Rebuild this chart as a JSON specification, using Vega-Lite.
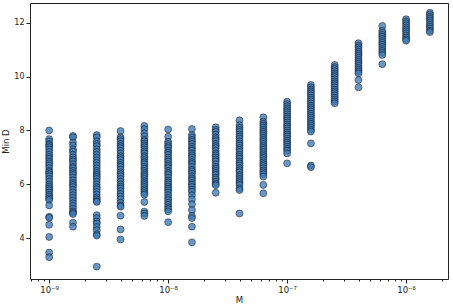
{
  "$schema": "https://vega.github.io/schema/vega-lite/v6.json",
  "width": 418,
  "height": 276,
  "autosize": {"type": "none"},
  "padding": {"left": 30, "top": 3, "right": 5, "bottom": 27},
  "background": "white",
  "config": {
    "view": {"stroke": "#222222", "strokeWidth": 1},
    "font": "DejaVu Sans",
    "axis": {"domain": false, "grid": false, "tickColor": "#222222", "labelColor": "#222222", "titleColor": "#222222", "labelFont": "DejaVu Sans", "titleFont": "DejaVu Sans", "labelFontSize": 8, "titleFontSize": 8.5, "titleFontWeight": "normal"}
  },
  "data": {"values": [
    {"M":1e-9,"D":8.0},{"M":1e-9,"D":7.68},{"M":1e-9,"D":7.6},{"M":1e-9,"D":7.5},{"M":1e-9,"D":7.45},{"M":1e-9,"D":7.38},{"M":1e-9,"D":7.3},{"M":1e-9,"D":7.2},{"M":1e-9,"D":7.1},{"M":1e-9,"D":7.02},{"M":1e-9,"D":6.95},{"M":1e-9,"D":6.85},{"M":1e-9,"D":6.78},{"M":1e-9,"D":6.7},{"M":1e-9,"D":6.6},{"M":1e-9,"D":6.5},{"M":1e-9,"D":6.45},{"M":1e-9,"D":6.38},{"M":1e-9,"D":6.3},{"M":1e-9,"D":6.2},{"M":1e-9,"D":6.1},{"M":1e-9,"D":6.0},{"M":1e-9,"D":5.92},{"M":1e-9,"D":5.85},{"M":1e-9,"D":5.78},{"M":1e-9,"D":5.7},{"M":1e-9,"D":5.62},{"M":1e-9,"D":5.55},{"M":1e-9,"D":5.48},{"M":1e-9,"D":5.42},{"M":1e-9,"D":5.22},{"M":1e-9,"D":4.8},{"M":1e-9,"D":4.76},{"M":1e-9,"D":4.5},{"M":1e-9,"D":4.05},{"M":1e-9,"D":3.47},{"M":1e-9,"D":3.3},
    {"M":1.585e-9,"D":7.8},{"M":1.585e-9,"D":7.75},{"M":1.585e-9,"D":7.55},{"M":1.585e-9,"D":7.45},{"M":1.585e-9,"D":7.3},{"M":1.585e-9,"D":7.22},{"M":1.585e-9,"D":7.1},{"M":1.585e-9,"D":7.0},{"M":1.585e-9,"D":6.92},{"M":1.585e-9,"D":6.85},{"M":1.585e-9,"D":6.75},{"M":1.585e-9,"D":6.65},{"M":1.585e-9,"D":6.6},{"M":1.585e-9,"D":6.5},{"M":1.585e-9,"D":6.42},{"M":1.585e-9,"D":6.35},{"M":1.585e-9,"D":6.25},{"M":1.585e-9,"D":6.15},{"M":1.585e-9,"D":6.05},{"M":1.585e-9,"D":5.98},{"M":1.585e-9,"D":5.9},{"M":1.585e-9,"D":5.8},{"M":1.585e-9,"D":5.7},{"M":1.585e-9,"D":5.6},{"M":1.585e-9,"D":5.5},{"M":1.585e-9,"D":5.4},{"M":1.585e-9,"D":5.3},{"M":1.585e-9,"D":5.2},{"M":1.585e-9,"D":5.1},{"M":1.585e-9,"D":5.0},{"M":1.585e-9,"D":4.95},{"M":1.585e-9,"D":4.9},{"M":1.585e-9,"D":4.58},{"M":1.585e-9,"D":4.43},
    {"M":2.512e-9,"D":7.83},{"M":2.512e-9,"D":7.75},{"M":2.512e-9,"D":7.6},{"M":2.512e-9,"D":7.5},{"M":2.512e-9,"D":7.42},{"M":2.512e-9,"D":7.3},{"M":2.512e-9,"D":7.2},{"M":2.512e-9,"D":7.1},{"M":2.512e-9,"D":7.0},{"M":2.512e-9,"D":6.9},{"M":2.512e-9,"D":6.8},{"M":2.512e-9,"D":6.7},{"M":2.512e-9,"D":6.6},{"M":2.512e-9,"D":6.5},{"M":2.512e-9,"D":6.42},{"M":2.512e-9,"D":6.35},{"M":2.512e-9,"D":6.28},{"M":2.512e-9,"D":6.2},{"M":2.512e-9,"D":6.1},{"M":2.512e-9,"D":6.0},{"M":2.512e-9,"D":5.9},{"M":2.512e-9,"D":5.82},{"M":2.512e-9,"D":5.72},{"M":2.512e-9,"D":5.62},{"M":2.512e-9,"D":5.52},{"M":2.512e-9,"D":5.45},{"M":2.512e-9,"D":5.38},{"M":2.512e-9,"D":5.35},{"M":2.512e-9,"D":4.86},{"M":2.512e-9,"D":4.75},{"M":2.512e-9,"D":4.62},{"M":2.512e-9,"D":4.55},{"M":2.512e-9,"D":4.42},{"M":2.512e-9,"D":4.3},{"M":2.512e-9,"D":4.15},{"M":2.512e-9,"D":4.1},{"M":2.512e-9,"D":2.95},
    {"M":3.981e-9,"D":7.98},{"M":3.981e-9,"D":7.75},{"M":3.981e-9,"D":7.68},{"M":3.981e-9,"D":7.6},{"M":3.981e-9,"D":7.5},{"M":3.981e-9,"D":7.42},{"M":3.981e-9,"D":7.35},{"M":3.981e-9,"D":7.25},{"M":3.981e-9,"D":7.15},{"M":3.981e-9,"D":7.05},{"M":3.981e-9,"D":6.98},{"M":3.981e-9,"D":6.9},{"M":3.981e-9,"D":6.8},{"M":3.981e-9,"D":6.72},{"M":3.981e-9,"D":6.65},{"M":3.981e-9,"D":6.55},{"M":3.981e-9,"D":6.45},{"M":3.981e-9,"D":6.38},{"M":3.981e-9,"D":6.3},{"M":3.981e-9,"D":6.2},{"M":3.981e-9,"D":6.1},{"M":3.981e-9,"D":6.0},{"M":3.981e-9,"D":5.92},{"M":3.981e-9,"D":5.85},{"M":3.981e-9,"D":5.75},{"M":3.981e-9,"D":5.65},{"M":3.981e-9,"D":5.55},{"M":3.981e-9,"D":5.45},{"M":3.981e-9,"D":5.32},{"M":3.981e-9,"D":5.22},{"M":3.981e-9,"D":5.17},{"M":3.981e-9,"D":4.84},{"M":3.981e-9,"D":4.33},{"M":3.981e-9,"D":3.96},
    {"M":6.31e-9,"D":8.17},{"M":6.31e-9,"D":8.05},{"M":6.31e-9,"D":7.9},{"M":6.31e-9,"D":7.78},{"M":6.31e-9,"D":7.65},{"M":6.31e-9,"D":7.6},{"M":6.31e-9,"D":7.52},{"M":6.31e-9,"D":7.45},{"M":6.31e-9,"D":7.38},{"M":6.31e-9,"D":7.3},{"M":6.31e-9,"D":7.22},{"M":6.31e-9,"D":7.15},{"M":6.31e-9,"D":7.05},{"M":6.31e-9,"D":6.98},{"M":6.31e-9,"D":6.9},{"M":6.31e-9,"D":6.82},{"M":6.31e-9,"D":6.75},{"M":6.31e-9,"D":6.65},{"M":6.31e-9,"D":6.58},{"M":6.31e-9,"D":6.5},{"M":6.31e-9,"D":6.42},{"M":6.31e-9,"D":6.35},{"M":6.31e-9,"D":6.28},{"M":6.31e-9,"D":6.2},{"M":6.31e-9,"D":6.12},{"M":6.31e-9,"D":6.05},{"M":6.31e-9,"D":5.98},{"M":6.31e-9,"D":5.9},{"M":6.31e-9,"D":5.82},{"M":6.31e-9,"D":5.75},{"M":6.31e-9,"D":5.68},{"M":6.31e-9,"D":5.62},{"M":6.31e-9,"D":5.35},{"M":6.31e-9,"D":4.99},{"M":6.31e-9,"D":4.92},{"M":6.31e-9,"D":4.83},
    {"M":1e-8,"D":8.04},{"M":1e-8,"D":7.77},{"M":1e-8,"D":7.58},{"M":1e-8,"D":7.5},{"M":1e-8,"D":7.42},{"M":1e-8,"D":7.35},{"M":1e-8,"D":7.25},{"M":1e-8,"D":7.18},{"M":1e-8,"D":7.1},{"M":1e-8,"D":7.0},{"M":1e-8,"D":6.92},{"M":1e-8,"D":6.85},{"M":1e-8,"D":6.75},{"M":1e-8,"D":6.68},{"M":1e-8,"D":6.6},{"M":1e-8,"D":6.5},{"M":1e-8,"D":6.42},{"M":1e-8,"D":6.35},{"M":1e-8,"D":6.25},{"M":1e-8,"D":6.15},{"M":1e-8,"D":6.08},{"M":1e-8,"D":6.0},{"M":1e-8,"D":5.92},{"M":1e-8,"D":5.85},{"M":1e-8,"D":5.78},{"M":1e-8,"D":5.7},{"M":1e-8,"D":5.6},{"M":1e-8,"D":5.5},{"M":1e-8,"D":5.42},{"M":1e-8,"D":5.32},{"M":1e-8,"D":5.24},{"M":1e-8,"D":5.15},{"M":1e-8,"D":5.08},{"M":1e-8,"D":5.0},{"M":1e-8,"D":4.6},
    {"M":1.585e-8,"D":8.06},{"M":1.585e-8,"D":7.83},{"M":1.585e-8,"D":7.75},{"M":1.585e-8,"D":7.65},{"M":1.585e-8,"D":7.58},{"M":1.585e-8,"D":7.5},{"M":1.585e-8,"D":7.4},{"M":1.585e-8,"D":7.32},{"M":1.585e-8,"D":7.25},{"M":1.585e-8,"D":7.15},{"M":1.585e-8,"D":7.08},{"M":1.585e-8,"D":7.0},{"M":1.585e-8,"D":6.9},{"M":1.585e-8,"D":6.82},{"M":1.585e-8,"D":6.75},{"M":1.585e-8,"D":6.65},{"M":1.585e-8,"D":6.55},{"M":1.585e-8,"D":6.48},{"M":1.585e-8,"D":6.4},{"M":1.585e-8,"D":6.3},{"M":1.585e-8,"D":6.22},{"M":1.585e-8,"D":6.15},{"M":1.585e-8,"D":6.05},{"M":1.585e-8,"D":5.98},{"M":1.585e-8,"D":5.9},{"M":1.585e-8,"D":5.8},{"M":1.585e-8,"D":5.73},{"M":1.585e-8,"D":5.6},{"M":1.585e-8,"D":5.45},{"M":1.585e-8,"D":5.27},{"M":1.585e-8,"D":5.05},{"M":1.585e-8,"D":4.83},{"M":1.585e-8,"D":4.75},{"M":1.585e-8,"D":4.43},{"M":1.585e-8,"D":3.85},
    {"M":2.512e-8,"D":8.12},{"M":2.512e-8,"D":8.02},{"M":2.512e-8,"D":7.95},{"M":2.512e-8,"D":7.85},{"M":2.512e-8,"D":7.75},{"M":2.512e-8,"D":7.68},{"M":2.512e-8,"D":7.6},{"M":2.512e-8,"D":7.5},{"M":2.512e-8,"D":7.42},{"M":2.512e-8,"D":7.35},{"M":2.512e-8,"D":7.25},{"M":2.512e-8,"D":7.15},{"M":2.512e-8,"D":7.08},{"M":2.512e-8,"D":7.0},{"M":2.512e-8,"D":6.92},{"M":2.512e-8,"D":6.85},{"M":2.512e-8,"D":6.75},{"M":2.512e-8,"D":6.65},{"M":2.512e-8,"D":6.58},{"M":2.512e-8,"D":6.5},{"M":2.512e-8,"D":6.42},{"M":2.512e-8,"D":6.35},{"M":2.512e-8,"D":6.25},{"M":2.512e-8,"D":6.18},{"M":2.512e-8,"D":6.1},{"M":2.512e-8,"D":6.02},{"M":2.512e-8,"D":5.97},{"M":2.512e-8,"D":5.69},
    {"M":3.981e-8,"D":8.38},{"M":3.981e-8,"D":8.2},{"M":3.981e-8,"D":8.1},{"M":3.981e-8,"D":8.02},{"M":3.981e-8,"D":7.95},{"M":3.981e-8,"D":7.85},{"M":3.981e-8,"D":7.78},{"M":3.981e-8,"D":7.7},{"M":3.981e-8,"D":7.6},{"M":3.981e-8,"D":7.52},{"M":3.981e-8,"D":7.45},{"M":3.981e-8,"D":7.35},{"M":3.981e-8,"D":7.28},{"M":3.981e-8,"D":7.2},{"M":3.981e-8,"D":7.1},{"M":3.981e-8,"D":7.02},{"M":3.981e-8,"D":6.95},{"M":3.981e-8,"D":6.85},{"M":3.981e-8,"D":6.78},{"M":3.981e-8,"D":6.7},{"M":3.981e-8,"D":6.6},{"M":3.981e-8,"D":6.52},{"M":3.981e-8,"D":6.45},{"M":3.981e-8,"D":6.35},{"M":3.981e-8,"D":6.28},{"M":3.981e-8,"D":6.2},{"M":3.981e-8,"D":6.12},{"M":3.981e-8,"D":6.05},{"M":3.981e-8,"D":5.98},{"M":3.981e-8,"D":5.85},{"M":3.981e-8,"D":5.79},{"M":3.981e-8,"D":4.92},
    {"M":6.31e-8,"D":8.49},{"M":6.31e-8,"D":8.33},{"M":6.31e-8,"D":8.25},{"M":6.31e-8,"D":8.18},{"M":6.31e-8,"D":8.1},{"M":6.31e-8,"D":8.02},{"M":6.31e-8,"D":7.95},{"M":6.31e-8,"D":7.88},{"M":6.31e-8,"D":7.8},{"M":6.31e-8,"D":7.72},{"M":6.31e-8,"D":7.65},{"M":6.31e-8,"D":7.58},{"M":6.31e-8,"D":7.5},{"M":6.31e-8,"D":7.42},{"M":6.31e-8,"D":7.35},{"M":6.31e-8,"D":7.28},{"M":6.31e-8,"D":7.2},{"M":6.31e-8,"D":7.12},{"M":6.31e-8,"D":7.05},{"M":6.31e-8,"D":6.98},{"M":6.31e-8,"D":6.9},{"M":6.31e-8,"D":6.82},{"M":6.31e-8,"D":6.75},{"M":6.31e-8,"D":6.68},{"M":6.31e-8,"D":6.6},{"M":6.31e-8,"D":6.52},{"M":6.31e-8,"D":6.45},{"M":6.31e-8,"D":6.38},{"M":6.31e-8,"D":6.29},{"M":6.31e-8,"D":5.98},{"M":6.31e-8,"D":5.67},
    {"M":1e-7,"D":9.07},{"M":1e-7,"D":8.98},{"M":1e-7,"D":8.9},{"M":1e-7,"D":8.82},{"M":1e-7,"D":8.75},{"M":1e-7,"D":8.68},{"M":1e-7,"D":8.6},{"M":1e-7,"D":8.52},{"M":1e-7,"D":8.45},{"M":1e-7,"D":8.38},{"M":1e-7,"D":8.3},{"M":1e-7,"D":8.22},{"M":1e-7,"D":8.15},{"M":1e-7,"D":8.08},{"M":1e-7,"D":8.0},{"M":1e-7,"D":7.92},{"M":1e-7,"D":7.85},{"M":1e-7,"D":7.78},{"M":1e-7,"D":7.7},{"M":1e-7,"D":7.62},{"M":1e-7,"D":7.55},{"M":1e-7,"D":7.48},{"M":1e-7,"D":7.4},{"M":1e-7,"D":7.32},{"M":1e-7,"D":7.25},{"M":1e-7,"D":7.15},{"M":1e-7,"D":6.78},
    {"M":1.585e-7,"D":9.69},{"M":1.585e-7,"D":9.6},{"M":1.585e-7,"D":9.52},{"M":1.585e-7,"D":9.45},{"M":1.585e-7,"D":9.38},{"M":1.585e-7,"D":9.3},{"M":1.585e-7,"D":9.22},{"M":1.585e-7,"D":9.15},{"M":1.585e-7,"D":9.08},{"M":1.585e-7,"D":9.0},{"M":1.585e-7,"D":8.92},{"M":1.585e-7,"D":8.85},{"M":1.585e-7,"D":8.78},{"M":1.585e-7,"D":8.7},{"M":1.585e-7,"D":8.62},{"M":1.585e-7,"D":8.55},{"M":1.585e-7,"D":8.48},{"M":1.585e-7,"D":8.4},{"M":1.585e-7,"D":8.32},{"M":1.585e-7,"D":8.25},{"M":1.585e-7,"D":8.18},{"M":1.585e-7,"D":8.1},{"M":1.585e-7,"D":8.02},{"M":1.585e-7,"D":7.96},{"M":1.585e-7,"D":7.52},{"M":1.585e-7,"D":6.7},{"M":1.585e-7,"D":6.64},
    {"M":2.512e-7,"D":10.43},{"M":2.512e-7,"D":10.35},{"M":2.512e-7,"D":10.28},{"M":2.512e-7,"D":10.2},{"M":2.512e-7,"D":10.12},{"M":2.512e-7,"D":10.05},{"M":2.512e-7,"D":9.98},{"M":2.512e-7,"D":9.9},{"M":2.512e-7,"D":9.82},{"M":2.512e-7,"D":9.75},{"M":2.512e-7,"D":9.68},{"M":2.512e-7,"D":9.6},{"M":2.512e-7,"D":9.52},{"M":2.512e-7,"D":9.45},{"M":2.512e-7,"D":9.38},{"M":2.512e-7,"D":9.3},{"M":2.512e-7,"D":9.22},{"M":2.512e-7,"D":9.15},{"M":2.512e-7,"D":9.08},{"M":2.512e-7,"D":9.01},
    {"M":3.981e-7,"D":11.24},{"M":3.981e-7,"D":11.15},{"M":3.981e-7,"D":11.08},{"M":3.981e-7,"D":11.0},{"M":3.981e-7,"D":10.92},{"M":3.981e-7,"D":10.85},{"M":3.981e-7,"D":10.78},{"M":3.981e-7,"D":10.7},{"M":3.981e-7,"D":10.62},{"M":3.981e-7,"D":10.55},{"M":3.981e-7,"D":10.48},{"M":3.981e-7,"D":10.4},{"M":3.981e-7,"D":10.32},{"M":3.981e-7,"D":10.25},{"M":3.981e-7,"D":10.18},{"M":3.981e-7,"D":10.12},{"M":3.981e-7,"D":9.87},{"M":3.981e-7,"D":9.6},
    {"M":6.31e-7,"D":11.88},{"M":6.31e-7,"D":11.7},{"M":6.31e-7,"D":11.62},{"M":6.31e-7,"D":11.55},{"M":6.31e-7,"D":11.48},{"M":6.31e-7,"D":11.4},{"M":6.31e-7,"D":11.32},{"M":6.31e-7,"D":11.25},{"M":6.31e-7,"D":11.18},{"M":6.31e-7,"D":11.1},{"M":6.31e-7,"D":11.02},{"M":6.31e-7,"D":10.95},{"M":6.31e-7,"D":10.88},{"M":6.31e-7,"D":10.8},{"M":6.31e-7,"D":10.46},
    {"M":1e-6,"D":12.13},{"M":1e-6,"D":12.05},{"M":1e-6,"D":11.98},{"M":1e-6,"D":11.9},{"M":1e-6,"D":11.82},{"M":1e-6,"D":11.75},{"M":1e-6,"D":11.68},{"M":1e-6,"D":11.6},{"M":1e-6,"D":11.52},{"M":1e-6,"D":11.45},{"M":1e-6,"D":11.38},{"M":1e-6,"D":11.33},
    {"M":1.585e-6,"D":12.37},{"M":1.585e-6,"D":12.3},{"M":1.585e-6,"D":12.22},{"M":1.585e-6,"D":12.15},{"M":1.585e-6,"D":12.08},{"M":1.585e-6,"D":12.0},{"M":1.585e-6,"D":11.92},{"M":1.585e-6,"D":11.85},{"M":1.585e-6,"D":11.78},{"M":1.585e-6,"D":11.7},{"M":1.585e-6,"D":11.65}
  ]},
  "mark": {"type": "point", "shape": "circle", "filled": true, "size": 48, "fill": "#3d7bb8", "fillOpacity": 0.78, "stroke": "#111111", "strokeWidth": 0.6, "strokeOpacity": 0.85},
  "encoding": {
    "x": {
      "field": "M", "type": "quantitative", "title": "M",
      "scale": {"type": "log", "domain": [6.9e-10, 2.25e-6], "nice": false},
      "axis": {
        "values": [7e-10, 8e-10, 9e-10, 1e-9, 2e-9, 3e-9, 4e-9, 5e-9, 6e-9, 7e-9, 8e-9, 9e-9, 1e-8, 2e-8, 3e-8, 4e-8, 5e-8, 6e-8, 7e-8, 8e-8, 9e-8, 1e-7, 2e-7, 3e-7, 4e-7, 5e-7, 6e-7, 7e-7, 8e-7, 9e-7, 1e-6, 2e-6],
        "labelExpr": "abs(log(datum.value)/LN10 - round(log(datum.value)/LN10)) < 0.001 ? (round(log(datum.value)/LN10) == -9 ? '10⁻⁹' : round(log(datum.value)/LN10) == -8 ? '10⁻⁸' : round(log(datum.value)/LN10) == -7 ? '10⁻⁷' : '10⁻⁶') : ''",
        "tickSize": {"condition": {"test": "abs(log(datum.value)/LN10 - round(log(datum.value)/LN10)) < 0.001", "value": 4}, "value": 2},
        "labelFontSize": 8.5,
        "labelPadding": 2,
        "labelFlush": false,
        "labelOverlap": false,
        "titlePadding": 2
      }
    },
    "y": {
      "field": "D", "type": "quantitative", "title": "Min D",
      "scale": {"domain": [2.49, 12.73], "nice": false, "zero": false},
      "axis": {"values": [4, 6, 8, 10, 12], "tickSize": 4, "labelPadding": 2, "titlePadding": 3}
    }
  }
}
